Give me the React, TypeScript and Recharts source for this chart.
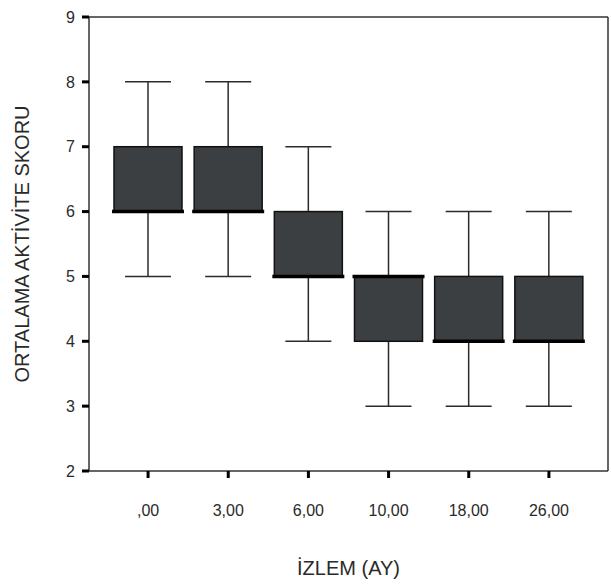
import React from 'react';
import { ComposedChart, Bar, XAxis, YAxis, Label } from 'recharts';

// follow-up months and activity score summaries per visit
const categories = [',00', '3,00', '6,00', '10,00', '18,00', '26,00'];
const minVals = [5, 5, 4, 3, 3, 3];
const q1Vals = [6, 6, 5, 4, 4, 4];
const medianVals = [6, 6, 5, 5, 4, 4];
const q3Vals = [7, 7, 6, 5, 5, 5];
const maxVals = [8, 8, 7, 6, 6, 6];
const yTicks = [2, 3, 4, 5, 6, 7, 8, 9];

const data = categories.map((label, i) => ({
    label,
    range: [minVals[i], maxVals[i]],
    min: minVals[i],
    q1: q1Vals[i],
    median: medianVals[i],
    q3: q3Vals[i],
    max: maxVals[i],
}));

const FONT = '"Liberation Sans", Arial, sans-serif';

// Box drawn inside the bar that spans min..max
const BoxShape = (props: any) => {
    const { x, y, width, height, payload } = props;
    if (!payload || !height) return null;
    const unit = height / (payload.max - payload.min);
    const toY = (v: number) => y + (payload.max - v) * unit;
    const cx = x + width / 2;
    const capHalf = 23;
    const yMax = toY(payload.max);
    const yMin = toY(payload.min);
    const yQ3 = toY(payload.q3);
    const yQ1 = toY(payload.q1);
    const yMed = toY(payload.median);
    return (
        <g>
            <line x1={cx} x2={cx} y1={yMax} y2={yMin} stroke="#2b2b2b" strokeWidth={1.5} />
            <line x1={cx - capHalf} x2={cx + capHalf} y1={yMax} y2={yMax} stroke="#2b2b2b" strokeWidth={1.5} />
            <line x1={cx - capHalf} x2={cx + capHalf} y1={yMin} y2={yMin} stroke="#2b2b2b" strokeWidth={1.5} />
            <rect x={x} y={yQ3} width={width} height={yQ1 - yQ3} fill="#3c3f42" stroke="#111" strokeWidth={1.5} />
            <line x1={x - 2} x2={x + width + 2} y1={yMed} y2={yMed} stroke="#000" strokeWidth={3.5} />
        </g>
    );
};

export default function App() {
    return (
        <div style={{ position: 'absolute', left: 0, top: 0, background: '#fff' }}>
            <ComposedChart
                width={611}
                height={585}
                data={data}
                margin={{ top: 16, right: 2, bottom: 0, left: 0 }}
            >
                <XAxis
                    xAxisId="x"
                    dataKey="label"
                    height={114}
                    padding={{ left: 19, right: 19 }}
                    axisLine={{ stroke: '#333', strokeWidth: 1.5 }}
                    tickLine={{ stroke: '#000', strokeWidth: 3 }}
                    tickSize={7}
                    tickMargin={27}
                    tick={{ fill: '#2a2a2a', fontSize: 16, fontFamily: FONT }}
                >
                    <Label
                        content={({ viewBox }: any) => (
                            <text
                                x={viewBox.x + viewBox.width / 2}
                                y={viewBox.y + 99}
                                textAnchor="middle"
                                dominantBaseline="middle"
                                fontSize={20}
                                fontFamily={FONT}
                                fill="#2a2a2a"
                            >
                                İZLEM (AY)
                            </text>
                        )}
                    />
                </XAxis>
                <XAxis
                    xAxisId="top"
                    orientation="top"
                    dataKey="label"
                    height={1}
                    padding={{ left: 19, right: 19 }}
                    axisLine={{ stroke: '#333', strokeWidth: 1.5 }}
                    tick={false}
                    tickLine={false}
                />
                <YAxis
                    yAxisId="y"
                    width={89}
                    domain={[2, 9]}
                    ticks={yTicks}
                    interval={0}
                    allowDataOverflow
                    axisLine={{ stroke: '#333', strokeWidth: 1.5 }}
                    tickLine={{ stroke: '#000', strokeWidth: 3 }}
                    tickSize={7}
                    tickMargin={7}
                    tick={{ fill: '#2a2a2a', fontSize: 16, fontFamily: FONT }}
                >
                    <Label
                        content={({ viewBox }: any) => {
                            const lx = 24;
                            const ly = viewBox.y + viewBox.height / 2;
                            return (
                                <text
                                    x={lx}
                                    y={ly}
                                    transform={`rotate(-90 ${lx} ${ly})`}
                                    textAnchor="middle"
                                    dominantBaseline="middle"
                                    fontSize={20}
                                    fontFamily={FONT}
                                    fill="#2a2a2a"
                                >
                                    ORTALAMA AKTİVİTE SKORU
                                </text>
                            );
                        }}
                    />
                </YAxis>
                <YAxis
                    yAxisId="right"
                    orientation="right"
                    width={1}
                    domain={[2, 9]}
                    axisLine={{ stroke: '#333', strokeWidth: 1.5 }}
                    tick={false}
                    tickLine={false}
                />
                <Bar
                    xAxisId="x"
                    yAxisId="y"
                    dataKey="range"
                    barSize={68}
                    shape={BoxShape}
                    isAnimationActive={false}
                />
            </ComposedChart>
        </div>
    );
}
